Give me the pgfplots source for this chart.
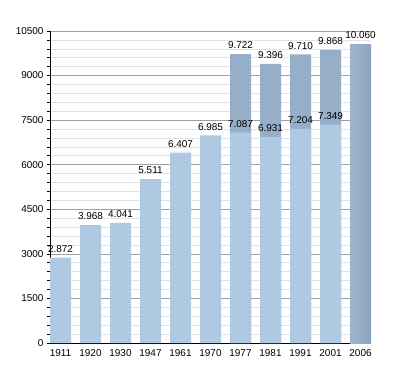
\documentclass[border=0pt]{standalone}
\usepackage{pgfplots}
\pgfplotsset{compat=1.18}
\usepackage{fontspec}
\setmainfont{Liberation Sans}
\definecolor{lightbar}{RGB}{176,201,227}
\definecolor{darkbar}{RGB}{150,174,200}
\definecolor{darkbarL}{RGB}{158,181,206}
\definecolor{darkbarR}{RGB}{140,164,191}
\definecolor{majgrid}{RGB}{160,160,160}
\definecolor{mingrid}{RGB}{222,226,234}
\begin{document}
\begin{tikzpicture}[x=1bp,y=1bp]
\useasboundingbox (0,0) rectangle (400,373);
\begin{axis}[
  at={(50bp,30bp)}, anchor=south west,
  scale only axis, width=321bp, height=312bp,
  xmin=-0.35, xmax=10.35, ymin=0, ymax=10500,
  axis x line*=bottom, axis y line*=left,
  axis line style={-, black, line width=0.8bp},
  xtick={0,...,10},
  xticklabels={1911,1920,1930,1947,1961,1970,1977,1981,1991,2001,2006},
  major x tick style={draw=none},
  ytick={0,1500,...,10500},
  scaled y ticks=false,
  minor y tick num=4,
  tick align=outside,
  major tick length=3bp, minor tick length=3bp,
  y tick style={black, line width=0.6bp},
  ymajorgrids, yminorgrids,
  major grid style={majgrid, line width=0.6bp},
  minor grid style={mingrid, line width=0.6bp},
  /pgf/number format/assume math mode=true,
  yticklabel style={/pgf/number format/1000 sep={}},
  tick label style={font=\fontsize{10}{12}\selectfont},
  ybar, bar width=21bp, bar shift=0pt,
  nodes near coords={\pgfmathprintnumber[1000 sep={.}]{\pgfplotspointmeta}},
  every node near coord/.append style={font=\fontsize{10}{12}\selectfont, black, inner sep=0pt, yshift=5bp},
]
\addplot[draw=none, fill=darkbar] coordinates {(6,9722)(7,9396)(8,9710)(9,9868)};
\addplot[draw=none, left color=darkbarL, right color=darkbarR] coordinates {(10,10060)};
\addplot[draw=none, fill=lightbar] coordinates {(0,2872)(1,3968)(2,4041)(3,5511)(4,6407)(5,6985)(6,7087)(7,6931)(8,7204)(9,7349)};
\end{axis}
\end{tikzpicture}
\end{document}
